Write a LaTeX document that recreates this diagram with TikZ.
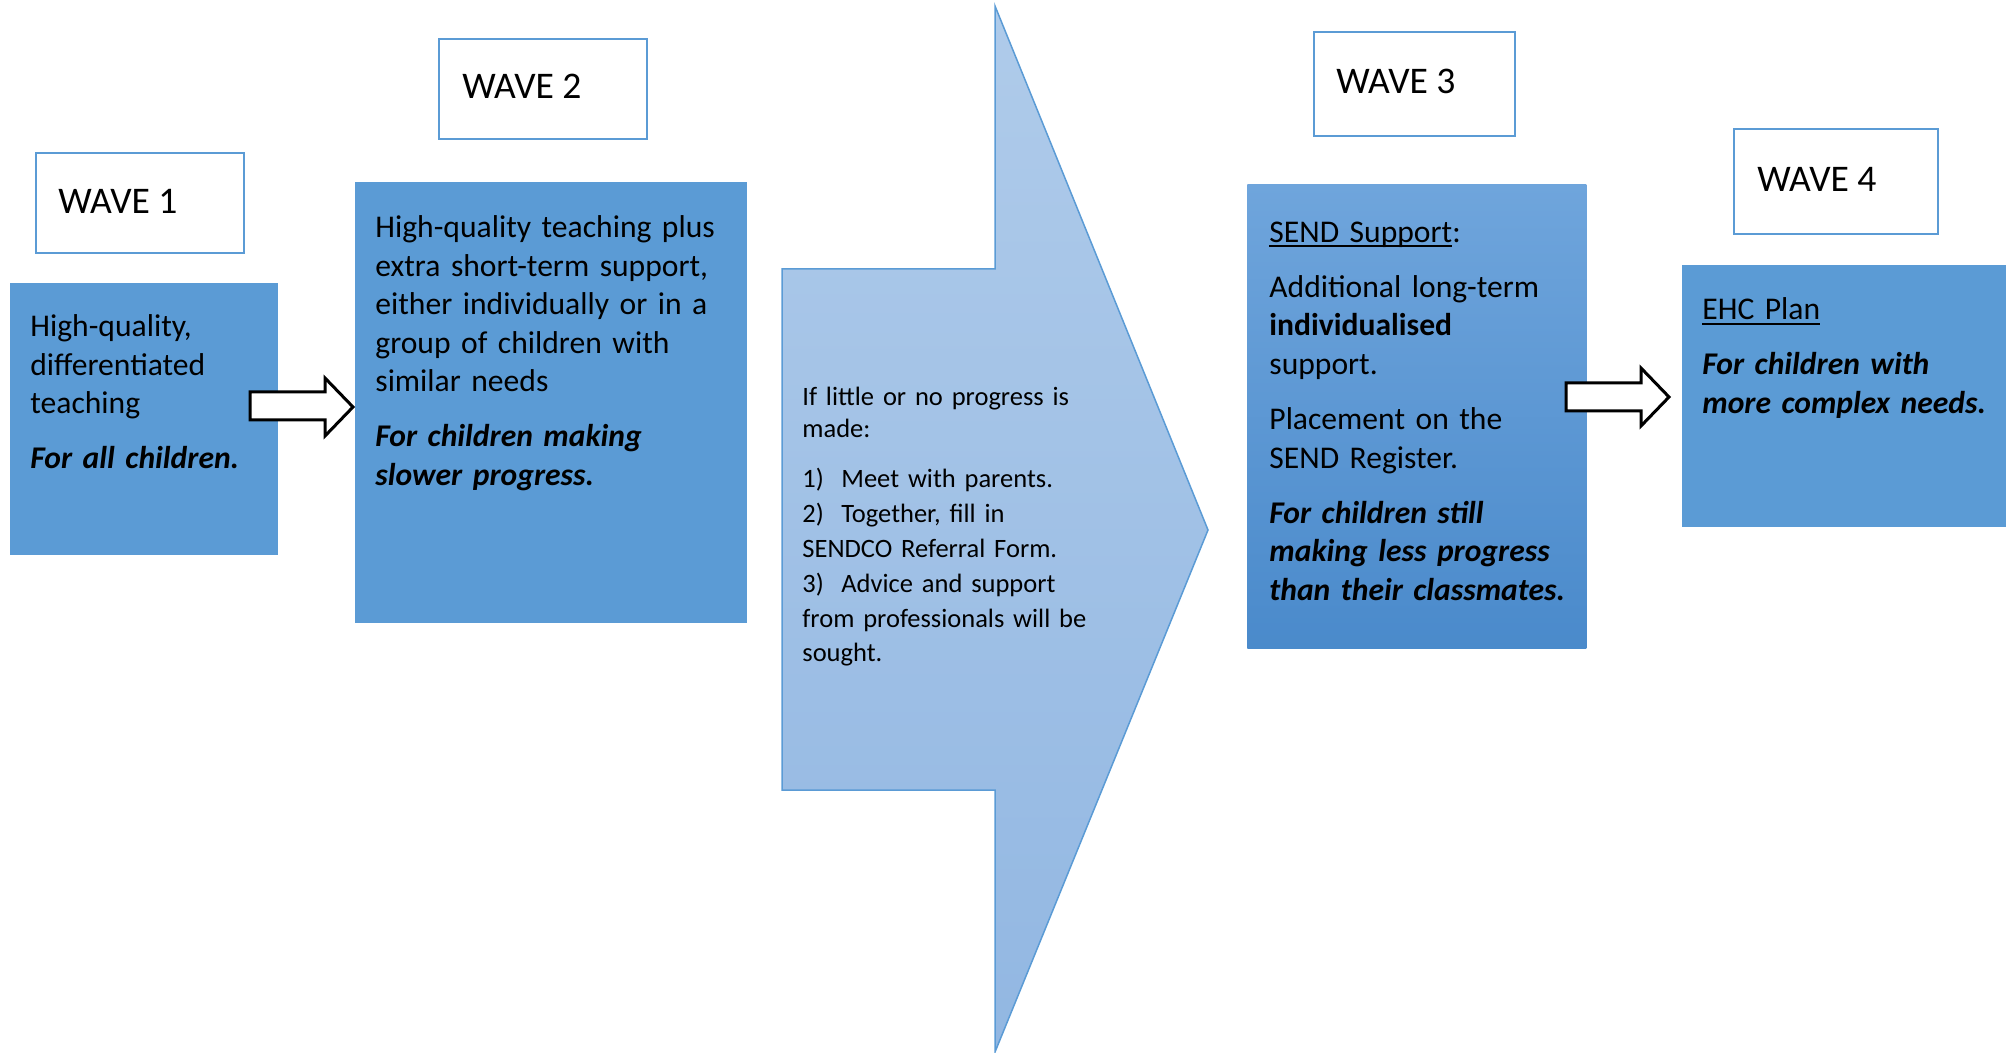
\documentclass[tikz,border=0pt]{standalone}
\usepackage{fontspec}
\setmainfont{Carlito}
\usetikzlibrary{calc}

\definecolor{accent}{HTML}{5B9BD5}
\definecolor{chevtop}{HTML}{AFCBEA}
\definecolor{chevbot}{HTML}{92B7E2}
\definecolor{supptop}{HTML}{6FA5DC}
\definecolor{suppbot}{HTML}{4A8ACB}

% underline that runs through descenders, Word style
\newcommand{\uln}[1]{\setbox0\hbox{#1}\rlap{\rule[-2.4pt]{\wd0}{0.9pt}}\box0}

\tikzset{
  wavebox/.style={draw=accent, line width=1.1pt, fill=white, inner sep=0pt, anchor=north west},
  bluebox/.style={fill=accent, inner sep=0pt, anchor=north west},
  wavetext/.style={anchor=base west, inner sep=0pt, font=\fontsize{18.8}{22}\selectfont},
  bodytext/.style={anchor=base west, inner sep=0pt, align=left, font=\fontsize{15.8}{19.3}\selectfont},
  smalltext/.style={anchor=base west, inner sep=0pt, align=left, font=\fontsize{13.25}{16}\selectfont},
  listtext/.style={anchor=base west, inner sep=0pt, align=left, font=\fontsize{13.25}{17.4}\selectfont},
  blockarrow/.style={draw=black, line width=1.5pt, fill=white, line join=miter},
  chevron/.style={draw=accent, line width=0.75pt, top color=chevtop, bottom color=chevbot}
}

\begin{document}
\begin{tikzpicture}[x=0.5pt,y=-0.5pt]
\useasboundingbox (0,0) rectangle (2009,1053);

% wave headings
\node[wavebox, minimum width=104pt, minimum height=50pt] (w1) at (35,152) {};
\node[wavetext] (w1t) at (58,214) {WAVE 1};
\node[wavebox, minimum width=104pt, minimum height=50pt] (w2) at (438,38) {};
\node[wavetext] (w2t) at (462,99) {WAVE 2};
\node[wavebox, minimum width=100.5pt, minimum height=52pt] (w3) at (1313,31) {};
\node[wavetext] (w3t) at (1336,93.5) {WAVE 3};
\node[wavebox, minimum width=102pt, minimum height=52.5pt] (w4) at (1733,128) {};
\node[wavetext] (w4t) at (1757,192) {WAVE 4};

% wave 1
\node[bluebox, minimum width=134pt, minimum height=136pt] (b1) at (10,283) {};
\node[bodytext, text width=120pt] (b1t) at (30,336.7) {High-quality,\\differentiated\\teaching\\[8.2pt]{\bfseries\itshape For all children.}};

% wave 2
\node[bluebox, minimum width=196pt, minimum height=220.5pt] (b2) at (355,182) {};
\node[bodytext, text width=182pt] (b2t) at (375,237.5) {High-quality teaching plus\\extra short-term support,\\either individually or in a\\group of children with\\similar needs\\[8.2pt]{\bfseries\itshape For children making\\slower progress.}};

% arrow from wave 1 to wave 2
\draw[blockarrow] (250,392) -- (325,392) -- (325,378) -- (353,407) -- (325,436) -- (325,420) -- (250,420) -- cycle;

% large arrow with the referral steps
\draw[chevron] (782,269) -- (995,269) -- (995,6) -- (1208,530) -- (995,1052) -- (995,790) -- (782,790) -- cycle;
\node[smalltext, text width=180pt] (ct) at (802,406) {If little or no progress is\\made:};
\node[listtext, text width=180pt] (cl) at (802,488) {\makebox[19.5pt][l]{1)}Meet with parents.\\\makebox[19.5pt][l]{2)}Together, fill in\\SENDCO Referral Form.\\\makebox[19.5pt][l]{3)}Advice and support\\from professionals will be\\sought.};

% wave 3
\node[anchor=north west, inner sep=0pt, top color=supptop, bottom color=suppbot, minimum width=169.5pt, minimum height=232pt] (b3) at (1247,184) {};
\node[bodytext, text width=158pt] (b3t) at (1269,242.4) {\uln{SEND Support}:\\[8.2pt]Additional long-term\\\textbf{individualised}\\support.\\[8.2pt]Placement on the\\SEND Register.\\[8.2pt]{\bfseries\itshape For children still\\making less progress\\than their classmates.}};

% wave 4
\node[bluebox, minimum width=162pt, minimum height=131pt] (b4) at (1682,265) {};
\node[bodytext, text width=150pt] (b4t) at (1702,320) {\uln{EHC Plan}\\[8.2pt]{\bfseries\itshape For children with\\more complex needs.}};

% arrow from wave 3 to wave 4
\draw[blockarrow] (1566,383) -- (1641,383) -- (1641,368) -- (1669,397) -- (1641,426) -- (1641,411) -- (1566,411) -- cycle;
\end{tikzpicture}
\end{document}
